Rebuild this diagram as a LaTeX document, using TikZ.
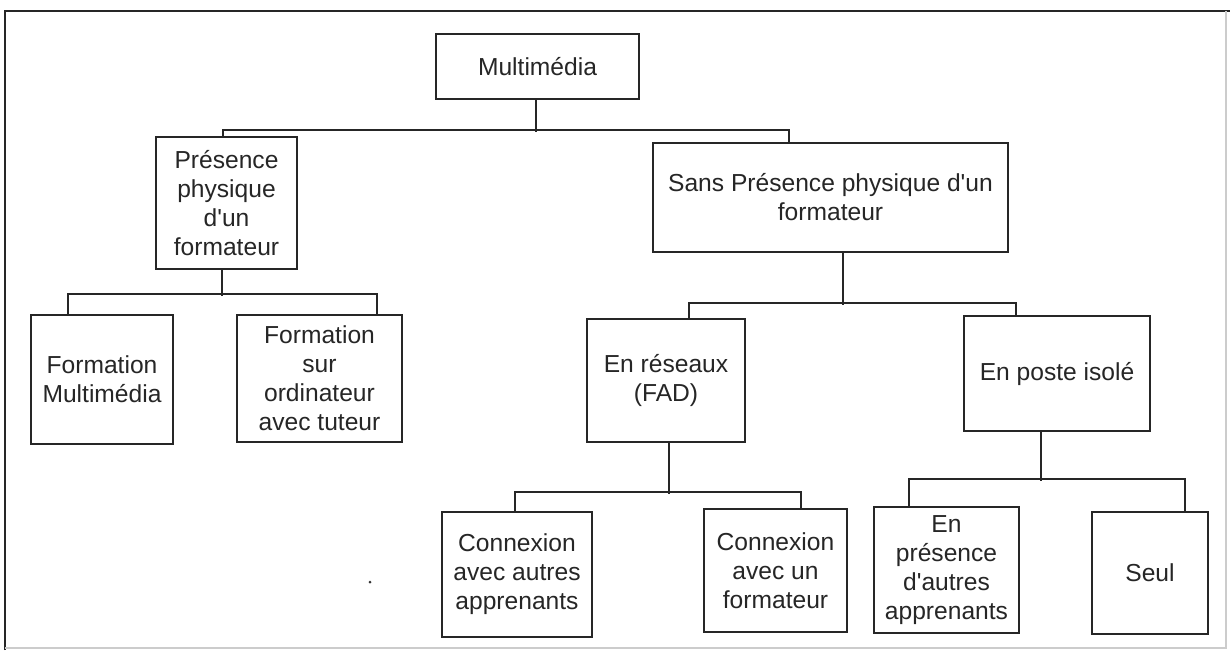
\documentclass[tikz,border=0pt]{standalone}
\usepackage{fontspec}
\setmainfont{Liberation Sans}
\begin{document}
\begin{tikzpicture}[x=1pt,y=-1pt,
  box/.style={draw=black!85, line width=1.9pt, rectangle, inner sep=0pt, align=center,
              text=black!85, font=\fontsize{24.6}{29}\selectfont},
  conn/.style={draw=black!85, line width=1.9pt}]
\fill[white] (0,0) rectangle (1230,655);
\useasboundingbox (0,0) rectangle (1230,655);
% frame
\draw[black!85, line width=2.2pt] (5,650) -- (5,11) -- (1230,11);
\draw[black!20, line width=1.2pt] (1226,11) -- (1226,648) -- (5,648);
% nodes
\node[box, minimum width=203, minimum height=65] (mm) at (537.5,66.5) {Multimédia};
\node[box, minimum width=141, minimum height=132] (pres) at (226.5,203) {Présence\\physique\\d\textquotesingle un\\formateur};
\node[box, minimum width=355, minimum height=109] (sans) at (830.5,197.5) {Sans Présence physique d\textquotesingle un\\formateur};
\node[box, minimum width=142, minimum height=129] (fm) at (102,379.5) {Formation\\Multimédia};
\node[box, minimum width=165, minimum height=127] (fso) at (319.5,378.5) {Formation\\sur\\ordinateur\\avec tuteur};
\node[box, minimum width=158, minimum height=123] (res) at (666,380.5) {En réseaux\\(FAD)};
\node[box, minimum width=186, minimum height=115] (poste) at (1057,373.5) {En poste isolé};
\node[box, minimum width=150, minimum height=125] (cau) at (517,574.5) {Connexion\\avec autres\\apprenants};
\node[box, minimum width=143, minimum height=123] (cun) at (775.5,570.5) {Connexion\\avec un\\formateur};
\node[box, minimum width=145, minimum height=126] (epr) at (946.5,570) {En\\présence\\d\textquotesingle autres\\apprenants};
\node[box, minimum width=116, minimum height=122] (seul) at (1150,573) {Seul};
% connectors
\draw[conn] ([xshift=-1.5]mm.south) -- ++(0,32);
\draw[conn] ([xshift=-3.5]pres.north) -- ++(0,-6) -| ([xshift=-41.5]sans.north);
\draw[conn] ([xshift=-4.5]pres.south) -- ++(0,26);
\draw[conn] ([xshift=-34]fm.north) -- ++(0,-20) -| ([xshift=57.5]fso.north);
\draw[conn] ([xshift=12.5]sans.south) -- ++(0,52);
\draw[conn] ([xshift=23]res.north) -- ++(0,-15) -| ([xshift=-41]poste.north);
\draw[conn] ([xshift=3]res.south) -- ++(0,51);
\draw[conn] ([xshift=-2]cau.north) -- ++(0,-19) -| ([xshift=25.5]cun.north);
\draw[conn] ([xshift=-16]poste.south) -- ++(0,49);
\draw[conn] ([xshift=-37.5]epr.north) -- ++(0,-27) -| ([xshift=35]seul.north);
% speck
\fill[black!80] (370,582) circle (1.5);
\end{tikzpicture}
\end{document}
